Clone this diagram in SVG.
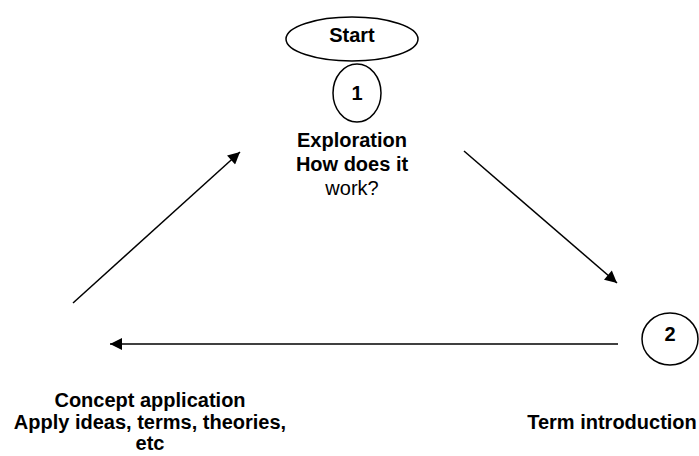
<svg xmlns="http://www.w3.org/2000/svg" width="699" height="456" viewBox="0 0 699 456">
<defs>
<style>
.shape{fill:#fff;stroke:#000;stroke-width:1.5}
.t{font-family:"Liberation Sans",Arial,sans-serif;font-size:20px;text-anchor:middle;fill:#000}
.b{font-weight:bold}
.conn line{stroke:#000;stroke-width:1.5}
</style>
<marker id="ah" viewBox="0 0 10 10" refX="10" refY="5" markerWidth="15" markerHeight="12" markerUnits="userSpaceOnUse" orient="auto"><path d="M0,0L10,5L0,10Z" fill="#000"/></marker>
</defs>
<g id="connectors" class="conn">
<line x1="73" y1="303" x2="240" y2="152" marker-end="url(#ah)"/>
<line x1="464" y1="151" x2="617" y2="283" marker-end="url(#ah)"/>
<line x1="618" y1="344" x2="110" y2="344" marker-end="url(#ah)"/>
</g>
<g id="start">
<ellipse class="shape" cx="352" cy="39" rx="66" ry="22"/>
<text class="t b" x="352" y="42">Start</text>
</g>
<g id="node1">
<ellipse class="shape" cx="357" cy="93" rx="24" ry="29"/>
<text class="t b" x="357" y="100">1</text>
<text class="t b" x="352" y="147">Exploration</text>
<text class="t b" x="352" y="171">How does it</text>
<text class="t" x="352" y="195">work?</text>
</g>
<g id="node2">
<ellipse class="shape" cx="670" cy="339" rx="28" ry="26"/>
<text class="t b" x="670" y="341">2</text>
<text class="t b" x="612" y="429">Term introduction</text>
</g>
<g id="node3">
<text class="t b" x="150" y="407">Concept application</text>
<text class="t b" x="150" y="429">Apply ideas, terms, theories,</text>
<text class="t b" x="150" y="450">etc</text>
</g>
</svg>
